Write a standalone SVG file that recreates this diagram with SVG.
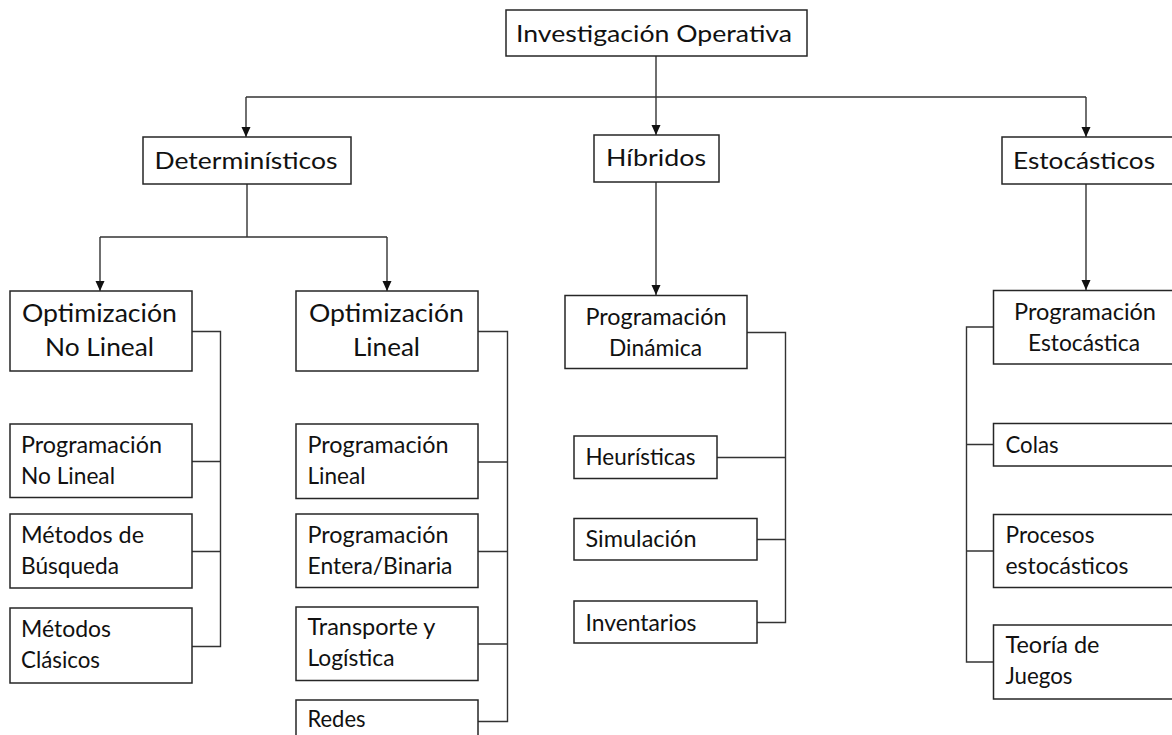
<svg xmlns="http://www.w3.org/2000/svg" width="1172" height="735" viewBox="0 0 1172 735">
<defs>
<style>
.box{fill:#fff;stroke:#262626;stroke-width:1.5}
.t{font-family:Lato,"Open Sans","Liberation Sans",sans-serif;fill:#111;font-size:23px}
.c{text-anchor:middle}
.big{font-size:25px}
.h{font-size:24px}
.con{fill:none;stroke:#333;stroke-width:1.4}
</style>
<marker id="arr" markerUnits="userSpaceOnUse" markerWidth="10" markerHeight="10" refX="10" refY="5" orient="auto" viewBox="0 0 10 10">
<path d="M0,0.5 L10,5 L0,9.5 z" fill="#111"/>
</marker>
</defs>
<rect width="1172" height="735" fill="#fff"/>
<g id="connectors">
<path class="con" d="M656 56 V97 M246 97 H1086"/>
<path class="con" d="M246 97 V137" marker-end="url(#arr)"/>
<path class="con" d="M656 97 V135" marker-end="url(#arr)"/>
<path class="con" d="M1086 97 V137" marker-end="url(#arr)"/>
<path class="con" d="M247 184 V237 M100 237 H387"/>
<path class="con" d="M100 237 V291" marker-end="url(#arr)"/>
<path class="con" d="M387 237 V291" marker-end="url(#arr)"/>
<path class="con" d="M656 182 V295" marker-end="url(#arr)"/>
<path class="con" d="M1086 184 V290" marker-end="url(#arr)"/>
<path class="con" d="M192 331.5 H220.5 V646.5 H192 M192 461.5 H220.5 M192 551.5 H220.5"/>
<path class="con" d="M478 331.5 H507.5 V721.5 H478 M478 462 H507.5 M478 551.5 H507.5 M478 644 H507.5"/>
<path class="con" d="M747 332.5 H785.5 V622.5 H757 M717 457.5 H785.5 M757 539.5 H785.5"/>
<path class="con" d="M993 327 H966.5 V662 H993 M966.5 444.5 H993 M966.5 551 H993"/>
</g>
<g id="n-io">
<rect class="box" x="506" y="10" width="301" height="46"/>
<text class="t c h" x="654" y="42" textLength="276" lengthAdjust="spacingAndGlyphs">Investigación Operativa</text>
</g>
<g id="n-det">
<rect class="box" x="143" y="137" width="208" height="47"/>
<text class="t c h" x="246" y="169" textLength="183" lengthAdjust="spacingAndGlyphs">Determinísticos</text>
</g>
<g id="n-hib">
<rect class="box" x="594" y="135" width="125" height="47"/>
<text class="t c h" x="656" y="166" textLength="100" lengthAdjust="spacingAndGlyphs">Híbridos</text>
</g>
<g id="n-est">
<rect class="box" x="1002" y="137" width="180" height="47"/>
<text class="t c h" x="1084" y="169" textLength="142" lengthAdjust="spacingAndGlyphs">Estocásticos</text>
</g>
<g id="n-onl">
<rect class="box" x="10" y="291" width="182" height="80"/>
<text class="t c big" x="99.5" y="322" textLength="155" lengthAdjust="spacingAndGlyphs">Optimización</text>
<text class="t c big" x="99.5" y="356" textLength="109" lengthAdjust="spacingAndGlyphs">No Lineal</text>
</g>
<g id="n-ol">
<rect class="box" x="296" y="291" width="182" height="80"/>
<text class="t c big" x="386.5" y="322" textLength="155" lengthAdjust="spacingAndGlyphs">Optimización</text>
<text class="t c big" x="386.5" y="356" textLength="67" lengthAdjust="spacingAndGlyphs">Lineal</text>
</g>
<g id="n-pnl">
<rect class="box" x="10" y="424" width="182" height="73.5"/>
<text class="t" x="21" y="452.5" textLength="141" lengthAdjust="spacingAndGlyphs">Programación</text>
<text class="t" x="21" y="483.5" textLength="94" lengthAdjust="spacingAndGlyphs">No Lineal</text>
</g>
<g id="n-mb">
<rect class="box" x="10" y="514" width="182" height="74"/>
<text class="t" x="21" y="543" textLength="123" lengthAdjust="spacingAndGlyphs">Métodos de</text>
<text class="t" x="21" y="573.5" textLength="98" lengthAdjust="spacingAndGlyphs">Búsqueda</text>
</g>
<g id="n-mc">
<rect class="box" x="10" y="608" width="182" height="75"/>
<text class="t" x="21" y="637" textLength="90" lengthAdjust="spacingAndGlyphs">Métodos</text>
<text class="t" x="21" y="668" textLength="79" lengthAdjust="spacingAndGlyphs">Clásicos</text>
</g>
<g id="n-pl">
<rect class="box" x="296" y="424" width="182" height="74.5"/>
<text class="t" x="307.5" y="453" textLength="141" lengthAdjust="spacingAndGlyphs">Programación</text>
<text class="t" x="307.5" y="484" textLength="58" lengthAdjust="spacingAndGlyphs">Lineal</text>
</g>
<g id="n-peb">
<rect class="box" x="296" y="514" width="182" height="73.5"/>
<text class="t" x="307.5" y="543" textLength="141" lengthAdjust="spacingAndGlyphs">Programación</text>
<text class="t" x="307.5" y="573.5" textLength="145" lengthAdjust="spacingAndGlyphs">Entera/Binaria</text>
</g>
<g id="n-tl">
<rect class="box" x="296" y="607" width="182" height="73.5"/>
<text class="t" x="307.5" y="635" textLength="128" lengthAdjust="spacingAndGlyphs">Transporte y</text>
<text class="t" x="307.5" y="665.5" textLength="87" lengthAdjust="spacingAndGlyphs">Logística</text>
</g>
<g id="n-redes">
<rect class="box" x="296" y="700" width="182" height="60"/>
<text class="t" x="307.5" y="727" textLength="58" lengthAdjust="spacingAndGlyphs">Redes</text>
</g>
<g id="n-pd">
<rect class="box" x="565" y="295.5" width="182" height="73"/>
<text class="t c" x="656" y="325" textLength="141" lengthAdjust="spacingAndGlyphs">Programación</text>
<text class="t c" x="655.5" y="356" textLength="93" lengthAdjust="spacingAndGlyphs">Dinámica</text>
</g>
<g id="n-heu">
<rect class="box" x="574" y="436" width="143" height="42.5"/>
<text class="t" x="585.5" y="464.5" textLength="110" lengthAdjust="spacingAndGlyphs">Heurísticas</text>
</g>
<g id="n-sim">
<rect class="box" x="574" y="518.5" width="183" height="41.5"/>
<text class="t" x="585.5" y="546.5" textLength="111" lengthAdjust="spacingAndGlyphs">Simulación</text>
</g>
<g id="n-inv">
<rect class="box" x="574" y="601" width="183" height="42"/>
<text class="t" x="585.5" y="630.5" textLength="111" lengthAdjust="spacingAndGlyphs">Inventarios</text>
</g>
<g id="n-pe">
<rect class="box" x="993.5" y="290.5" width="190" height="73.5"/>
<text class="t c" x="1085" y="319.5" textLength="142" lengthAdjust="spacingAndGlyphs">Programación</text>
<text class="t c" x="1084" y="350.5" textLength="112" lengthAdjust="spacingAndGlyphs">Estocástica</text>
</g>
<g id="n-colas">
<rect class="box" x="993.5" y="423.5" width="190" height="42.5"/>
<text class="t" x="1005.5" y="452.5" textLength="53" lengthAdjust="spacingAndGlyphs">Colas</text>
</g>
<g id="n-proc">
<rect class="box" x="993.5" y="514.5" width="190" height="73"/>
<text class="t" x="1005.5" y="542.5" textLength="89" lengthAdjust="spacingAndGlyphs">Procesos</text>
<text class="t" x="1005.5" y="573.5" textLength="123" lengthAdjust="spacingAndGlyphs">estocásticos</text>
</g>
<g id="n-tj">
<rect class="box" x="993.5" y="625" width="190" height="74"/>
<text class="t" x="1005.5" y="653" textLength="94" lengthAdjust="spacingAndGlyphs">Teoría de</text>
<text class="t" x="1005.5" y="683.5" textLength="67" lengthAdjust="spacingAndGlyphs">Juegos</text>
</g>
</svg>
